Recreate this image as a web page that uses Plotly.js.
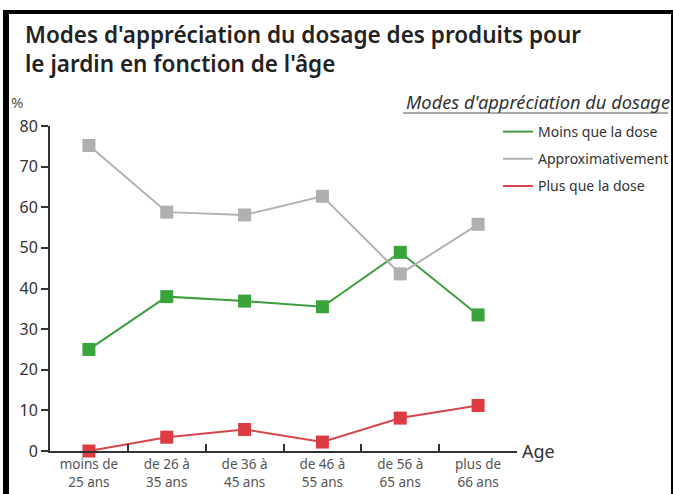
<!DOCTYPE html>
<html><head><meta charset="utf-8">
<script src="https://cdn.plot.ly/plotly-3.0.1.min.js"></script>
<style>
html,body{margin:0;padding:0;background:#fff;}
#frame{position:absolute;left:3px;top:10px;width:662px;height:500px;border-left:6px solid #000;border-top:4px solid #000;border-right:4px solid #000;}
#chart{position:absolute;left:0;top:0;width:673px;height:494px;overflow:hidden;}
</style></head>
<body>
<div id="frame"></div>
<div id="chart"></div>
<script>
const categories = ["moins de<br>25 ans","de 26 à<br>35 ans","de 36 à<br>45 ans","de 46 à<br>55 ans","de 56 à<br>65 ans","plus de<br>66 ans"];
const seriesNames = ["Moins que la dose","Approximativement","Plus que la dose"];
const moinsQueLaDose = [25.0, 38.0, 36.9, 35.5, 48.9, 33.5];
const approximativement = [75.2, 58.8, 58.1, 62.7, 43.6, 55.8];
const plusQueLaDose = [0, 3.4, 5.3, 2.2, 8.1, 11.2];
const yTicks = [0,10,20,30,40,50,60,70,80];
const titleLines = ["Modes d'appréciation du dosage des produits pour","le jardin en fonction de l'âge"];

const colors = ["#3f9e3f","#b3b3b3","#d6464c"];
const markerColors = ["#39a439","#b0b0b0","#dc3b42"];
const vals = [moinsQueLaDose, approximativement, plusQueLaDose];

const traces = [];
vals.forEach((v,i)=>{
  traces.push({x:categories,y:v,type:"scatter",mode:"lines",name:seriesNames[i],legendgroup:"g"+i,
    line:{color:colors[i],width:2},showlegend:true,cliponaxis:false});
});
vals.forEach((v,i)=>{
  traces.push({x:categories,y:v,type:"scatter",mode:"markers",name:seriesNames[i],legendgroup:"g"+i,
    marker:{symbol:"square",size:13,color:markerColors[i]},showlegend:false,cliponaxis:false});
});

const PW = 467, PH = 325;
const layout = {
  width:673,height:494,
  margin:{l:50,r:156,t:126,b:43,autoexpand:false},
  paper_bgcolor:"rgba(0,0,0,0)",plot_bgcolor:"rgba(0,0,0,0)",
  font:{family:"Noto Sans, sans-serif",color:"#333"},
  xaxis:{type:"category",range:[-0.5,5.5],showline:true,linecolor:"#333",linewidth:2,
    ticks:"inside",tickson:"boundaries",ticklen:7,tickwidth:2,tickcolor:"#333",
    tickfont:{size:13.5,color:"#555"},showgrid:false,zeroline:false,fixedrange:true,automargin:false},
  yaxis:{range:[0,80],tickvals:yTicks,showline:true,linecolor:"#333",linewidth:2,
    ticks:"outside",ticklen:7,tickwidth:2,tickcolor:"#333",
    tickfont:{size:16,color:"#333"},showgrid:false,zeroline:false,fixedrange:true,automargin:false},
  legend:{x:(498-50)/PW,xanchor:"left",y:1+10/PH,yanchor:"top",traceorder:"grouped",
    font:{size:14,color:"#333"},tracegroupgap:6,itemwidth:30,bgcolor:"rgba(0,0,0,0)"},
  annotations:[
    {text:titleLines[0],xref:"paper",yref:"paper",x:(23-50)/PW,y:1+(126-34)/PH,xanchor:"left",yanchor:"middle",showarrow:false,font:{size:22.5,weight:600,color:"#222"}},
    {text:titleLines[1],xref:"paper",yref:"paper",x:(23-50)/PW,y:1+(126-64)/PH,xanchor:"left",yanchor:"middle",showarrow:false,font:{size:22.5,weight:600,color:"#222"}},
    {text:"%",xref:"paper",yref:"paper",x:(9-50)/PW,y:1+24/PH,xanchor:"left",yanchor:"middle",showarrow:false,font:{size:15,color:"#555"}},
    {text:"<i>Modes d'appréciation du dosage</i>",xref:"paper",yref:"paper",x:(672-50)/PW,y:1+24/PH,xanchor:"right",yanchor:"middle",showarrow:false,font:{size:18.3,color:"#333"}},
    {text:"Age",xref:"paper",yref:"paper",x:(520-50)/PW,y:0,xanchor:"left",yanchor:"middle",showarrow:false,font:{size:18,color:"#333"}}
  ],
  shapes:[
    {type:"line",xref:"paper",yref:"paper",x0:(403-50)/PW,x1:(668-50)/PW,y0:1+13/PH,y1:1+13/PH,line:{color:"#555",width:1}}
  ]
};
Plotly.newPlot("chart",traces,layout,{displayModeBar:false,staticPlot:true});
</script>
</body></html>
